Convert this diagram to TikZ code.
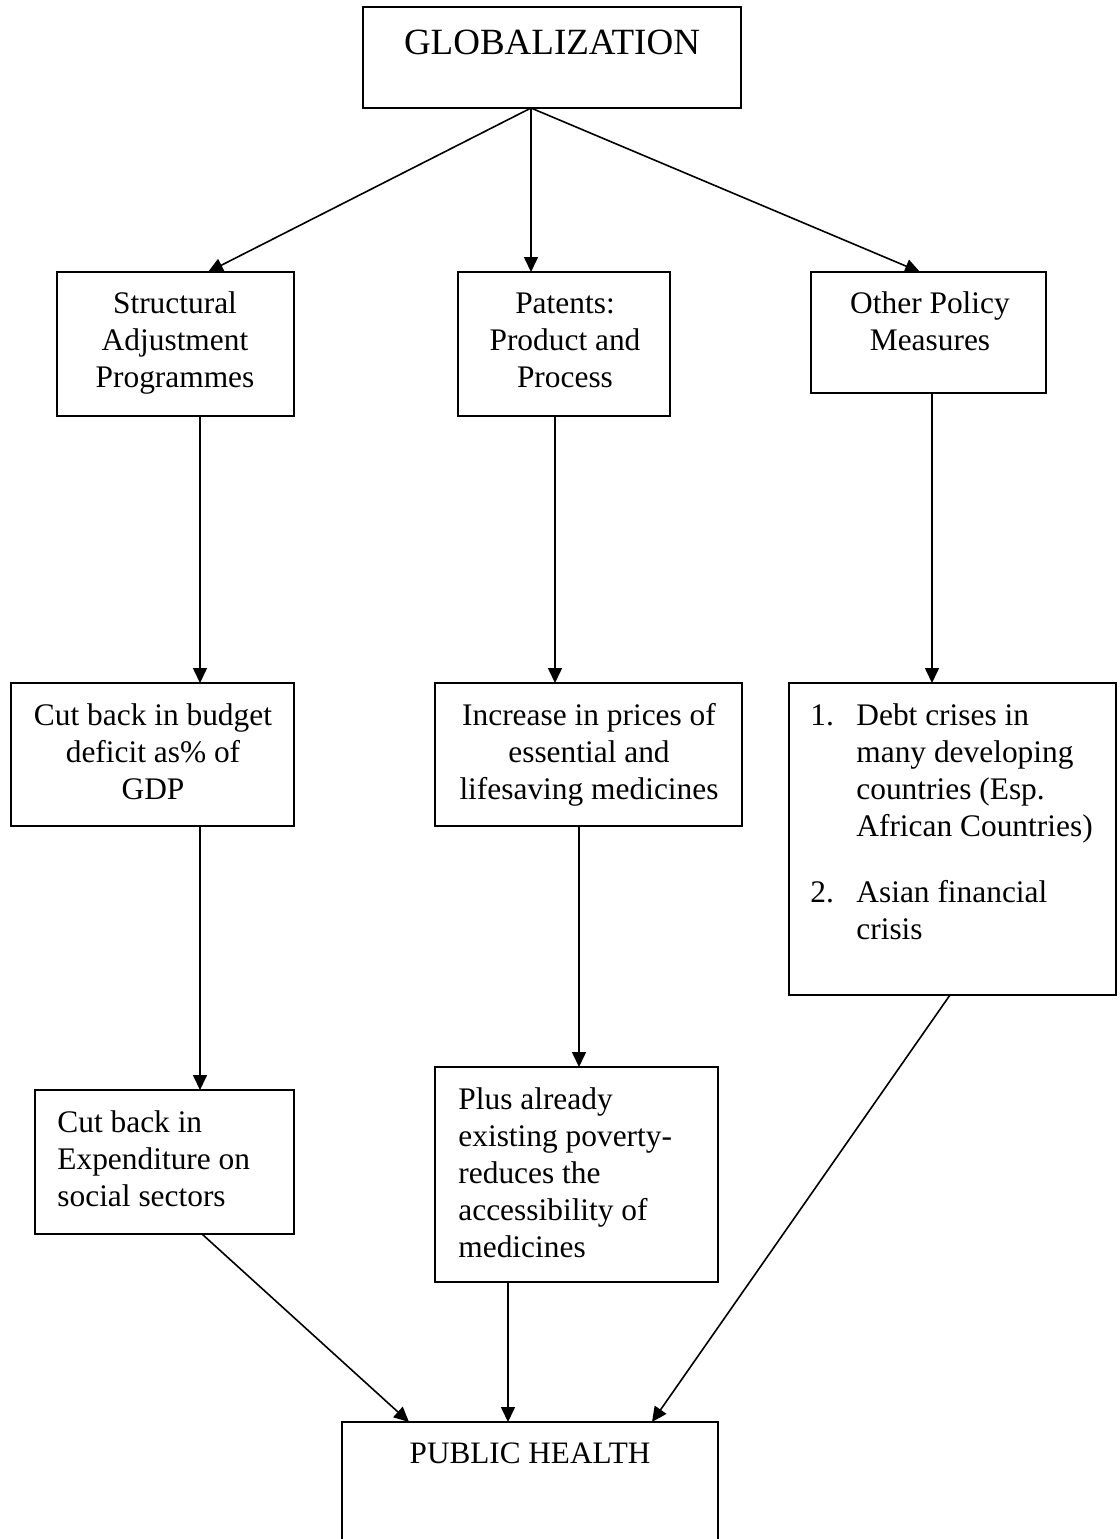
\documentclass[tikz,border=0pt]{standalone}
\usepackage{fontspec}
\setmainfont{Liberation Serif}
\usetikzlibrary{arrows.meta}
\newcommand\mystrut{\rule{0pt}{12pt}}
\begin{document}
\begin{tikzpicture}[x=0.5pt,y=-0.5pt,
  box/.style={draw, line width=1pt, anchor=north west, inner sep=0, outer sep=0},
  txt/.style={inner sep=0, anchor=north, font=\fontsize{15.7}{18.5}\selectfont},
  txl/.style={txt, anchor=north west, align=left},
  arr/.style={line width=0.8pt, -{Triangle[length=7.5pt,width=7pt]}}]
\useasboundingbox (0,0) rectangle (1120,1539);
% boxes
\node[box, minimum width=189pt, minimum height=50.5pt] (glob) at (363,7) {};
\node[box, minimum width=118.5pt, minimum height=72pt] (sap) at (57,272) {};
\node[box, minimum width=106pt, minimum height=72pt] (pat) at (458,272) {};
\node[box, minimum width=117.5pt, minimum height=60.5pt] (oth) at (811,272) {};
\node[box, minimum width=141.5pt, minimum height=71.5pt] (bud) at (11,683) {};
\node[box, minimum width=153.5pt, minimum height=71.5pt] (inc) at (435,683) {};
\node[box, minimum width=163.5pt, minimum height=156pt] (debt) at (789,683) {};
\node[box, minimum width=129.5pt, minimum height=72pt] (exp) at (35,1090) {};
\node[box, minimum width=141.5pt, minimum height=107.5pt] (plus) at (435,1067) {};
\node[box, minimum width=188pt, minimum height=63pt] (ph) at (342,1422) {};
% texts
\node[inner sep=0, anchor=base, font=\fontsize{18.5}{22}\selectfont] (tglob) at (552,54) {GLOBALIZATION};
\node[txt, align=center] (tsap) at (175,289) {\mystrut Structural\\Adjustment\\Programmes};
\node[txt, align=center] (tpat) at (565,289) {\mystrut Patents:\\Product and\\Process};
\node[txt, align=center] (toth) at (930,289) {\mystrut Other Policy\\Measures};
\node[txt, align=center] (tbud) at (153,701) {\mystrut Cut back in budget\\deficit as\% of\\GDP};
\node[txt, align=center] (tinc) at (589,701) {\mystrut Increase in prices of\\essential and\\lifesaving medicines};
\node[txl] (n1) at (810,701) {\mystrut 1.};
\node[txl] (tdebt1) at (856,701) {\mystrut Debt crises in\\many developing\\countries (Esp.\\African Countries)};
\node[txl] (n2) at (810,878) {\mystrut 2.};
\node[txl] (tdebt2) at (856,878) {\mystrut Asian financial\\crisis};
\node[txl] (texp) at (57,1108) {\mystrut Cut back in\\Expenditure on\\social sectors};
\node[txl] (tplus) at (458,1085) {\mystrut Plus already\\existing poverty-\\reduces the\\accessibility of\\medicines};
\node[inner sep=0, anchor=base, font=\fontsize{15.6}{18.5}\selectfont] (tph) at (530,1463) {PUBLIC HEALTH};
% arrows
\draw[arr] ([xshift=-10.5pt]glob.south) -- ([xshift=75.5pt]sap.north west);
\draw[arr] ([xshift=-10.5pt]glob.south) -- ([xshift=36.5pt]pat.north west);
\draw[arr] ([xshift=-10.5pt]glob.south) -- ([xshift=54.5pt]oth.north west);
\draw[arr] ([xshift=71.5pt]sap.south west) -- ([xshift=71.5pt]sap.south west |- bud.north);
\draw[arr] ([xshift=48.5pt]pat.south west) -- ([xshift=48.5pt]pat.south west |- inc.north);
\draw[arr] ([xshift=60.5pt]oth.south west) -- ([xshift=60.5pt]oth.south west |- debt.north);
\draw[arr] ([xshift=94.5pt]bud.south west) -- ([xshift=94.5pt]bud.south west |- exp.north);
\draw[arr] ([xshift=72pt]inc.south west) -- ([xshift=72pt]inc.south west |- plus.north);
\draw[arr] ([xshift=83.5pt]exp.south west) -- ([xshift=33.5pt]ph.north west);
\draw[arr] ([xshift=36.5pt]plus.south west) -- ([xshift=36.5pt]plus.south west |- ph.north);
\draw[arr] ([xshift=80.5pt]debt.south west) -- ([xshift=155pt]ph.north west);
\end{tikzpicture}
\end{document}
